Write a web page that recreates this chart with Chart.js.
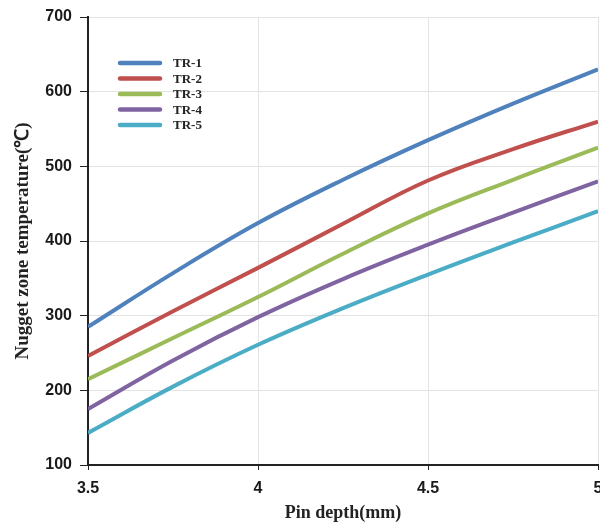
<!DOCTYPE html>
<html>
<head>
<meta charset="utf-8">
<script src="https://cdn.jsdelivr.net/npm/chart.js@4"></script>
<style>
html,body{margin:0;padding:0;background:#fff;}
#wrap{width:600px;height:524px;position:relative;}
</style>
</head>
<body>
<div id="wrap"><canvas id="c" width="600" height="524"></canvas></div>
<script>
const pinDepth = [3.5, 3.75, 4, 4.25, 4.5, 4.75, 5];
const tr1 = [285, 357, 424, 482, 535, 584, 630];
const tr2 = [246, 306, 364, 423, 481, 523, 560];
const tr3 = [215, 270, 325, 383, 437, 482, 525];
const tr4 = [175, 240, 298, 349, 395, 438, 480];
const tr5 = [143, 205, 261, 310, 355, 398, 440];
const seriesLabels = ['TR-1', 'TR-2', 'TR-3', 'TR-4', 'TR-5'];
const seriesColors = ['#4F81BD', '#C0504D', '#9BBB59', '#8064A2', '#4BACC6'];
const allSeries = [tr1, tr2, tr3, tr4, tr5];

const datasets = allSeries.map((s, i) => ({
  label: seriesLabels[i],
  data: s.map((v, j) => ({x: pinDepth[j], y: v})),
  borderColor: seriesColors[i],
  backgroundColor: seriesColors[i],
  borderWidth: 4,
  pointRadius: 0,
  tension: 0.4,
  fill: false
}));

const insideLegend = {
  id: 'insideLegend',
  afterDatasetsDraw(chart) {
    const ctx = chart.ctx;
    const x0 = 120, x1 = 160, tx = 173;
    const y0 = 63, dy = 15.5;
    ctx.save();
    chart.data.datasets.forEach((ds, i) => {
      const y = y0 + i * dy;
      ctx.strokeStyle = ds.borderColor;
      ctx.lineWidth = 4.5;
      ctx.lineCap = 'round';
      ctx.beginPath();
      ctx.moveTo(x0, y);
      ctx.lineTo(x1, y);
      ctx.stroke();
      ctx.fillStyle = '#222';
      ctx.font = 'bold 13px "Liberation Serif", serif';
      ctx.textBaseline = 'middle';
      ctx.textAlign = 'left';
      ctx.fillText(ds.label, tx, y + 1);
    });
    ctx.restore();
  }
};

new Chart(document.getElementById('c'), {
  type: 'line',
  data: { datasets },
  options: {
    responsive: false,
    animation: false,
    devicePixelRatio: 1,
    layout: { padding: { top: 17, right: 2, left: 0, bottom: 0 } },
    plugins: { legend: { display: false }, tooltip: { enabled: false } },
    scales: {
      x: {
        type: 'linear',
        min: 3.5, max: 5,
        ticks: {
          stepSize: 0.5,
          color: '#1a1a1a',
          font: { family: '"Liberation Sans", sans-serif', weight: 'bold', size: 16 },
          padding: 9,
          callback: v => String(v)
        },
        grid: { color: '#e3e3e3', lineWidth: 1, tickColor: '#222', tickLength: 5 },
        border: { color: '#222', width: 2 },
        title: {
          display: true,
          text: 'Pin depth(mm)',
          color: '#222',
          font: { family: '"Liberation Serif", serif', weight: 'bold', size: 18 },
          padding: { top: 2, bottom: 0 }
        },
        afterFit(scale) { scale.height = 59; scale.paddingLeft = 0; scale.paddingRight = 0; }
      },
      y: {
        min: 100, max: 700,
        ticks: {
          stepSize: 100,
          color: '#1a1a1a',
          font: { family: '"Liberation Sans", sans-serif', weight: 'bold', size: 16 },
          padding: 8
        },
        grid: { color: '#e3e3e3', lineWidth: 1, tickColor: '#222', tickLength: 8 },
        border: { color: '#222', width: 2 },
        title: {
          display: true,
          text: 'Nugget zone temperature(℃)',
          color: '#222',
          font: { family: '"Liberation Serif", serif', weight: 'bold', size: 19 },
          padding: { top: 12, bottom: 4 }
        },
        afterFit(scale) { scale.width = 88; scale.paddingTop = 0; scale.paddingBottom = 0; }
      }
    }
  },
  plugins: [insideLegend]
});
</script>
</body>
</html>
